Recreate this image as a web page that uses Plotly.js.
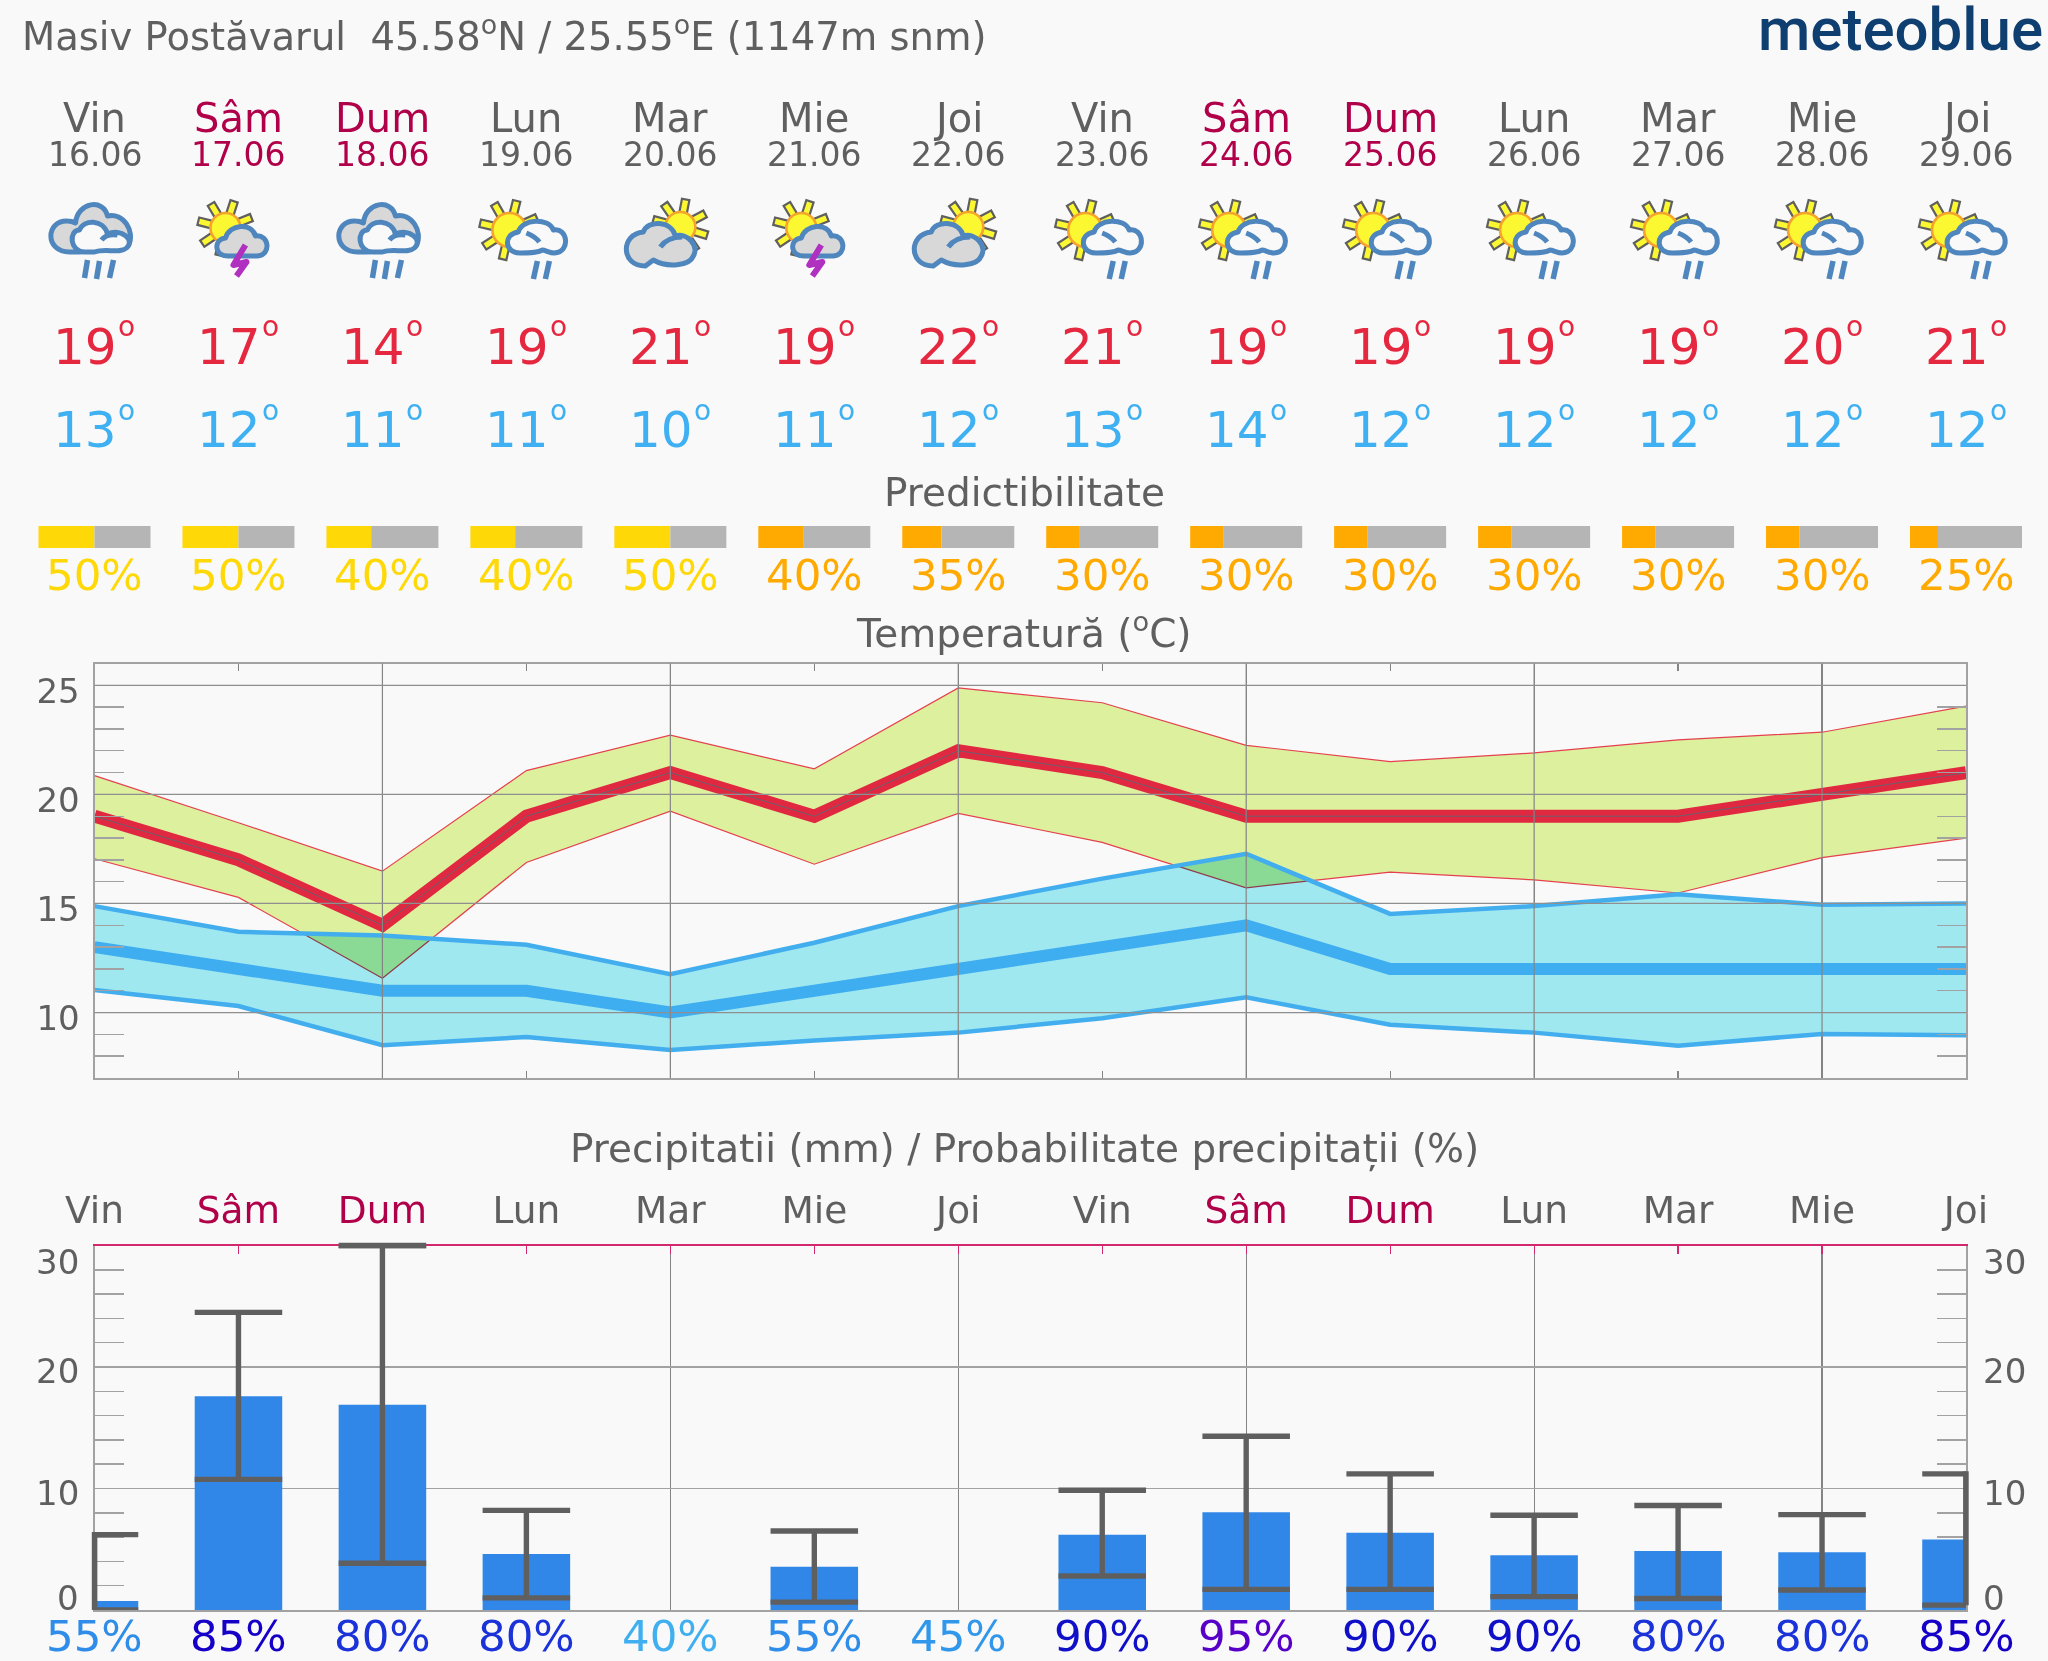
<!DOCTYPE html>
<html>
<head>
<meta charset="utf-8">
<script src="https://cdn.plot.ly/plotly-3.0.1.min.js"></script>
<style>
html,body{margin:0;padding:0;background:#f9f9f9}
#chart{width:2048px;height:1661px}
.js-fill{mix-blend-mode:multiply}
</style>
</head>
<body>
<div id="chart"></div>
<script>
// ---------- data ----------
var dayNames = ["Vin","Sâm","Dum","Lun","Mar","Mie","Joi","Vin","Sâm","Dum","Lun","Mar","Mie","Joi"];
var dates = ["16.06","17.06","18.06","19.06","20.06","21.06","22.06","23.06","24.06","25.06","26.06","27.06","28.06","29.06"];
var weekend = [0,1,1,0,0,0,0,0,1,1,0,0,0,0];
var icons = ["rainCloud","sunStorm","rainCloud","sunRain","sunCloud","sunStorm","sunCloud","sunRain","sunRain","sunRain","sunRain","sunRain","sunRain","sunRain"];
var tempMax = [19,17,14,19,21,19,22,21,19,19,19,19,20,21];
var tempMin = [13,12,11,11,10,11,12,13,14,12,12,12,12,12];
var maxUpper = [20.86,18.7,16.48,21.09,22.72,21.17,24.88,24.2,22.25,21.5,21.9,22.5,22.85,24.05];
var maxLower = [17.05,15.28,11.57,16.88,19.23,16.8,19.13,17.8,15.72,16.44,16.08,15.48,17.1,18.0];
var minUpper = [14.88,13.7,13.53,13.11,11.76,13.2,14.88,16.14,17.28,14.52,14.88,15.42,14.94,15.0];
var minLower = [11.03,10.3,8.5,8.88,8.28,8.72,9.08,9.74,10.7,9.44,9.08,8.48,9.02,8.96];
var predictability = [50,50,40,40,50,40,35,30,30,30,30,30,30,25];
var predictColors = ["#FFD807","#FFD807","#FFD807","#FFD807","#FFD807","#FFAA00","#FFAA00","#FFAA00","#FFAA00","#FFAA00","#FFAA00","#FFAA00","#FFAA00","#FFAA00"];
var precip = [0.75,17.6,16.9,4.6,0,3.55,0,6.2,8.05,6.35,4.5,4.85,4.75,5.8];
var precipHigh = [6.2,24.5,30,8.2,0,6.5,0,9.85,14.3,11.2,7.8,8.6,7.85,11.2];
var precipLow = [0,10.75,3.85,1.0,0,0.65,0,2.8,1.7,1.7,1.1,0.95,1.65,0.4];
var precipProb = [55,85,80,80,40,55,45,90,95,90,90,80,80,85];
var probColors = {40:"#3FAFF0",45:"#3097EA",55:"#2F8DE9",80:"#1A32D8",85:"#1600C8",90:"#1010C8",95:"#5600C8"};
var precipTicks = [0,10,20,30];
var precipTickShift = [12,-4,-4,-16];
var tempTicks = [10,15,20,25];

// ---------- geometry helpers ----------
var W = 2048, H = 1661, L = 94.5, R = 1966, DX = (R-L)/13;
function px(x){return x/W;}
function py(y){return 1-y/H;}
var GREY = "#5F5F5F", WKND = "#B00049", AXIS = "#A2A2A2", VGRID = "#858585", FONT = "DejaVu Sans";
var idx = dayNames.map(function(_,i){return i;});
var tempTop = 663.5, tempBot = 1078, preTop = 1245.5, preBot = 1610, PRE_MAX = 30;

// ---------- icons ----------
var BL = "#4F86BE", CG = "#D8D8D8", BG = "#F9F9F9";
function sun(cx,cy,r,angles){
  var s = "";
  angles.forEach(function(a){
    s += '<g transform="rotate('+a+' '+cx+' '+cy+')"><rect x="'+(cx-3.8)+'" y="'+(cy-r-13)+'" width="7.6" height="15" fill="#FBF832" stroke="#5F5F5F" stroke-width="2.2"/></g>';
  });
  return s + '<circle cx="'+cx+'" cy="'+cy+'" r="'+r+'" fill="#FBF832" stroke="#F5A32B" stroke-width="2.6"/>';
}
function stroke(d,c,w,f){return '<path d="'+d+'" fill="'+(f||"none")+'" stroke="'+c+'" stroke-width="'+w+'" stroke-linejoin="round" stroke-linecap="butt"/>';}
var iconSvg = {
  rainCloud: stroke("M30 62C5 62 6 30 28 31C30 31 34 32 36 33C38 12 64 8 68 26C84 22 96 42 89 55L40 62Z",BL,5,CG)
    + stroke("M45 62C30 62 29 40 40 40C44 29 64 29 68 44C82 38 96 50 87 58C80 64 66 58 55 62Z",BL,5,BG)
    + stroke("M62 50C65 46 71 44 78 45",BL,5)
    + stroke("M48 70L45 88",BL,5.5)+stroke("M60 71L57 89",BL,5.5)+stroke("M74 70L70 88",BL,5.5),
  sunStorm: sun(42,38,15,[-31,18,68,-76,-124,-167])
    + stroke("M45 66C30 66 30 49 42 48C46 34 68 32 72 46C86 44 88 65 74 66Z",BL,5,CG)
    + stroke("M62 55L50 75L63 72L53 86","#B030C0",6),
  sunRain: sun(38,40,17,[-30,14,66,-77,-123,-167])
    + stroke("M50 63C33 64 31 44 47 42C50 29 77 27 82 40C96 37 100 62 83 63C77 63 74 60 71 60C66 63 58 63 50 63Z",BL,5,BG)
    + stroke("M55 43C60 45 65 48 68 52",BL,5)
    + stroke("M66 71L62 89",BL,5.5)+stroke("M78 71L74 89",BL,5.5),
  sunCloud: sun(65,37,15,[-35,11,62,107,146,-75])
    + stroke("M30 76C5 76 5 44 28 42C32 30 56 30 60 46C72 42 84 56 78 66C74 76 52 78 38 70Z",BL,5,CG)
    + stroke("M45 57C49 51 57 47 67 47",BL,5)
};
function iconUrl(name){
  var svg = '<svg xmlns="http://www.w3.org/2000/svg" width="110" height="100" viewBox="0 0 110 100">'+iconSvg[name]+'</svg>';
  return "data:image/svg+xml;charset=utf-8,"+encodeURIComponent(svg);
}
var images = icons.map(function(name,i){
  return {source:iconUrl(name),xref:"paper",yref:"paper",x:px(L+DX*i-55),y:py(190),sizex:px(110),sizey:100/H,xanchor:"left",yanchor:"top",sizing:"stretch",layer:"above"};
});

// ---------- annotations ----------
function note(text,xv,yPix,size,color,opts){
  var a = {text:text,xref:"x",yref:"paper",x:xv,y:py(yPix),showarrow:false,xanchor:"center",yanchor:"middle",
           font:{family:FONT,size:size,color:color},borderpad:0};
  if(opts){for(var k in opts){a[k]=opts[k];}}
  return a;
}
var annotations = [];
annotations.push(note("Masiv Postăvarul \u00a045.58<sup>o</sup>N / 25.55<sup>o</sup>E (1147m snm)",px(21),34,38.5,GREY,{xref:"paper",xanchor:"left"}));
annotations.push(note("meteoblue",px(2044),29,60,"#0F3F70",{xref:"paper",xanchor:"right",font:{family:"Roboto",size:60,color:"#0F3F70",weight:500}}));
idx.forEach(function(i){
  var c = weekend[i] ? WKND : GREY;
  annotations.push(note(dayNames[i],i,118,40,c));
  annotations.push(note(dates[i],i,154,33,c));
  annotations.push(note(String(tempMax[i]),i,347,50,"#E5283F",{xshift:-9.5}));
  annotations.push(note("o",i,326,28,"#E5283F",{xshift:32}));
  annotations.push(note(String(tempMin[i]),i,430,50,"#3FB0F2",{xshift:-9.5}));
  annotations.push(note("o",i,410,28,"#3FB0F2",{xshift:32}));
  annotations.push(note(predictability[i]+"%",i,575,43.5,predictColors[i]));
  annotations.push(note(precipProb[i]+"%",i,1636,43.5,probColors[precipProb[i]]));
});
annotations.push(note("Predictibilitate",px(1024),492,39,GREY,{xref:"paper"}));
annotations.push(note("Temperatură (<sup>o</sup>C)",px(1024),631,39,GREY,{xref:"paper"}));
annotations.push(note("Precipitatii (mm) / Probabilitate precipitații (%)",px(1024),1149,39,GREY,{xref:"paper"}));
precipTicks.forEach(function(t,k){
  annotations.push({text:String(t),xref:"paper",yref:"y2",x:px(81),y:t,yshift:precipTickShift[k],showarrow:false,xanchor:"right",yanchor:"middle",font:{family:FONT,size:34,color:GREY}});
  annotations.push({text:String(t),xref:"paper",yref:"y2",x:px(1981),y:t,yshift:precipTickShift[k],showarrow:false,xanchor:"left",yanchor:"middle",font:{family:FONT,size:34,color:GREY}});
});

// ---------- error-bar geometry built from the data arrays ----------
var errX = [], errY = [], CAP = 0.304;
idx.forEach(function(i){
  if(precipHigh[i] <= 0) return;
  var c0 = Math.max(0,i-CAP), c1 = Math.min(13,i+CAP);
  errX.push(i,i,null,c0,c1,null,c0,c1,null);
  errY.push(precipLow[i],precipHigh[i],null,precipHigh[i],precipHigh[i],null,precipLow[i],precipLow[i],null);
});

// ---------- traces ----------
var PW = 0.778;
var traces = [
  {type:"scatter",mode:"lines",x:idx,y:maxLower,line:{color:"#E5404F",width:1.2},hoverinfo:"skip"},
  {type:"scatter",mode:"lines",x:idx,y:maxUpper,fill:"tonexty",fillcolor:"rgb(220,240,158)",line:{color:"#E5404F",width:1.2},hoverinfo:"skip"},
  {type:"scatter",mode:"lines",x:idx,y:minLower,line:{color:"#43AEEE",width:4.5},hoverinfo:"skip"},
  {type:"scatter",mode:"lines",x:idx,y:minUpper,fill:"tonexty",fillcolor:"rgb(160,232,240)",line:{color:"#43AEEE",width:4.5},hoverinfo:"skip"},
  {type:"scatter",mode:"lines",x:idx,y:tempMax,line:{color:"#E02840",width:13},cliponaxis:false},
  {type:"scatter",mode:"lines",x:idx,y:tempMax,line:{color:"#6C6070",width:1},cliponaxis:false,hoverinfo:"skip"},
  {type:"scatter",mode:"lines",x:idx,y:tempMin,line:{color:"#3FAEF0",width:12},cliponaxis:false},
  // predictability blocks
  {type:"bar",xaxis:"x4",yaxis:"y4",x:idx.map(function(i){return i-PW/2+predictability[i]/100*PW/2;}),y:idx.map(function(){return 1;}),
   width:predictability.map(function(p){return p/100*PW;}),marker:{color:predictColors,line:{width:0}},hoverinfo:"skip"},
  {type:"bar",xaxis:"x4",yaxis:"y4",x:idx.map(function(i){var p=predictability[i]/100;return i-PW/2+p*PW+(1-p)*PW/2;}),y:idx.map(function(){return 1;}),
   width:predictability.map(function(p){return (1-p/100)*PW;}),marker:{color:"#B5B5B5",line:{width:0}},hoverinfo:"skip"},
  // precipitation
  {type:"bar",xaxis:"x2",yaxis:"y2",x:idx,y:precip,width:0.608,marker:{color:"#3087E8",line:{width:0}}},
  {type:"scatter",mode:"lines",xaxis:"x2",yaxis:"y2",x:errX,y:errY,line:{color:"#5F5F5F",width:5.4},connectgaps:false,cliponaxis:false,hoverinfo:"skip"},
  // carrier of the top axis with the day names
  {type:"scatter",mode:"lines",xaxis:"x3",yaxis:"y2",x:[0,13],y:[0,0],line:{color:"rgba(0,0,0,0)",width:0},hoverinfo:"skip"}
];

// grid lines of the temperature panel run over its lines and bands
var shapes = [];
idx.forEach(function(i){
  if(i%2===0 && i>0) shapes.push({type:"line",layer:"above",xref:"x",yref:"y domain",x0:i,x1:i,y0:0,y1:1,line:{color:VGRID,width:1.2}});
});
tempTicks.forEach(function(t){
  shapes.push({type:"line",layer:"above",xref:"x domain",yref:"y",x0:0,x1:1,y0:t,y1:t,line:{color:"#8F8F8F",width:1.2}});
});
// error-bar strokes that sit on the panel edge and overhang it
function prePaper(v){return py(preBot)+(v/PRE_MAX)*(py(preTop)-py(preBot));}
function dayPaper(i){return px(L+DX*i);}
idx.forEach(function(i){
  if(precipHigh[i] <= 0) return;
  var errLine = {color:"#5F5F5F",width:5.4};
  if(i===0 || i===idx.length-1){
    shapes.push({type:"line",layer:"above",xref:"paper",yref:"paper",x0:dayPaper(i),x1:dayPaper(i),y0:prePaper(precipLow[i]),y1:prePaper(precipHigh[i])+2.7/H,line:errLine});
  }
  if(precipHigh[i] >= PRE_MAX){
    shapes.push({type:"line",layer:"above",xref:"paper",yref:"paper",x0:dayPaper(i-CAP),x1:dayPaper(i+CAP),y0:prePaper(precipHigh[i]),y1:prePaper(precipHigh[i]),line:errLine});
  }
});

var layout = {
  width:W,height:H,margin:{l:0,r:0,t:0,b:0,pad:0},paper_bgcolor:"#F9F9F9",plot_bgcolor:"#F9F9F9",
  showlegend:false,barmode:"overlay",hovermode:false,font:{family:FONT,color:GREY},
  images:images,annotations:annotations,shapes:shapes,
  xaxis:{domain:[px(L),px(R)],range:[0,13],anchor:"y",tick0:0,dtick:2,showgrid:true,gridcolor:VGRID,gridwidth:1.2,layer:"above traces",
         ticks:"inside",ticklen:7,tickcolor:VGRID,tickwidth:1.2,showticklabels:false,showline:true,linecolor:AXIS,linewidth:2,mirror:"ticks",zeroline:false,
         minor:{dtick:1,tick0:0,ticks:"inside",ticklen:7,tickcolor:VGRID,tickwidth:1.2,showgrid:false}},
  yaxis:{domain:[py(tempBot),py(tempTop)],range:[7,26],anchor:"x",tick0:0,dtick:5,showgrid:true,gridcolor:AXIS,gridwidth:1.6,layer:"above traces",
         ticks:"inside",ticklen:29,tickcolor:AXIS,tickwidth:1.4,showline:true,linecolor:AXIS,linewidth:2,mirror:"ticks",zeroline:false,
         tickfont:{family:FONT,size:34,color:GREY},ticklabelstandoff:6,ticklabelshift:6,
         minor:{dtick:1,ticks:"inside",ticklen:29,tickcolor:AXIS,tickwidth:1.4,showgrid:false}},
  xaxis2:{domain:[px(L),px(R)],range:[0,13],anchor:"y2",tick0:0,dtick:2,showgrid:true,gridcolor:VGRID,gridwidth:1.2,layer:"below traces",
          ticks:"",showticklabels:false,showline:true,linecolor:AXIS,linewidth:2,zeroline:false},
  xaxis3:{domain:[px(L),px(R)],range:[0,13],anchor:"y2",overlaying:"x2",side:"top",tick0:0,dtick:1,tickmode:"array",tickvals:idx,layer:"below traces",
          ticktext:idx.map(function(i){return weekend[i]?'<span style="color:'+WKND+'">'+dayNames[i]+'</span>':dayNames[i];}),
          tickfont:{family:FONT,size:37.5,color:GREY},ticks:"inside",ticklen:8,tickcolor:"#D2286E",tickwidth:1.2,tickangle:0,
          showgrid:false,showline:true,linecolor:"#D2286E",linewidth:1.6,zeroline:false,ticklabelstandoff:6},
  yaxis2:{domain:[py(preBot),py(preTop)],range:[0,PRE_MAX],anchor:"x2",tick0:0,dtick:10,showgrid:true,gridcolor:AXIS,gridwidth:1.6,layer:"below traces",
          ticks:"inside",ticklen:29,tickcolor:AXIS,tickwidth:1.4,showticklabels:false,showline:true,linecolor:AXIS,linewidth:2,mirror:"ticks",zeroline:false,
          minor:{dtick:2,ticks:"inside",ticklen:29,tickcolor:AXIS,tickwidth:1.4,showgrid:false}},
  xaxis4:{domain:[0,1],range:[-L/DX,(W-L)/DX],anchor:"y4",visible:false,fixedrange:true},
  yaxis4:{domain:[py(548),py(526)],range:[0,1],anchor:"x4",visible:false,fixedrange:true}
};
Plotly.newPlot("chart",traces,layout,{displayModeBar:false,staticPlot:true});
</script>
</body>
</html>
